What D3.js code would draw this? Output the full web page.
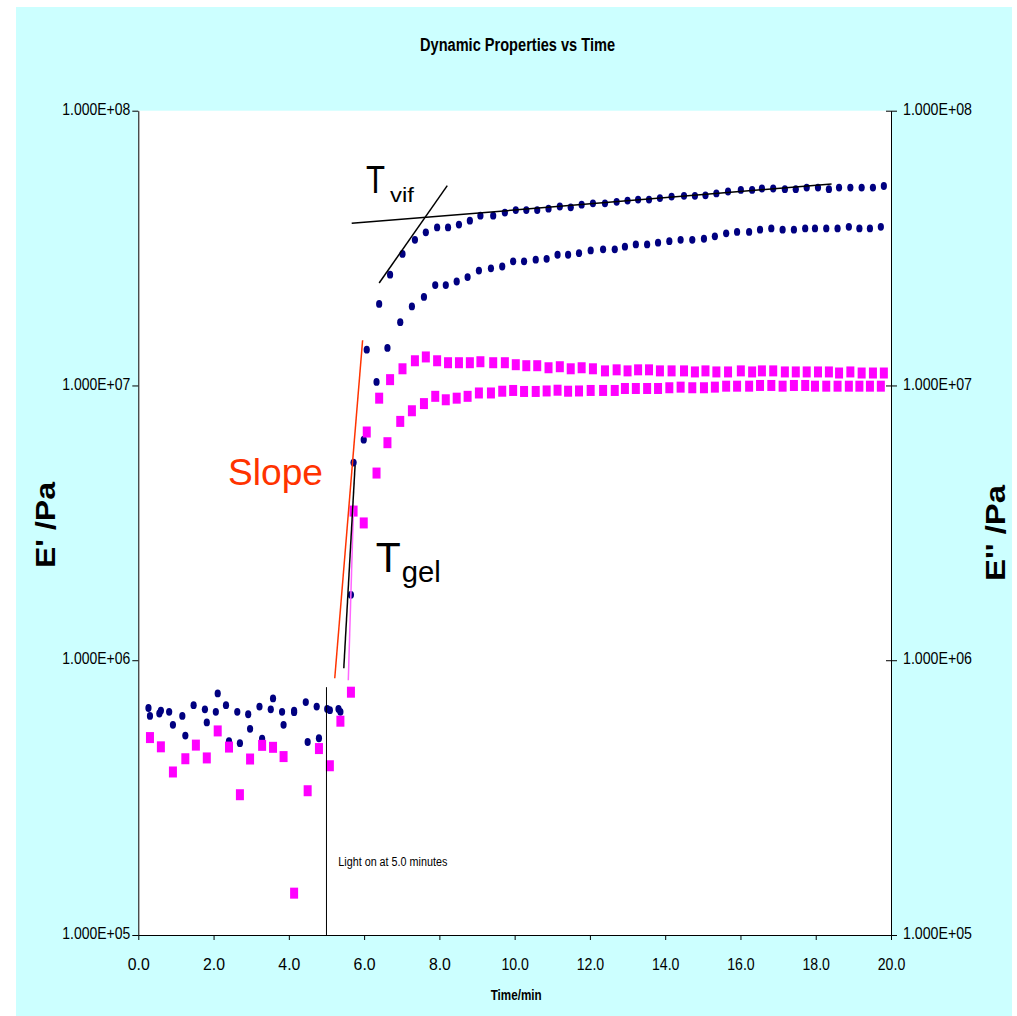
<!DOCTYPE html>
<html>
<head>
<meta charset="utf-8">
<script src="https://cdn.jsdelivr.net/npm/d3@7"></script>
<style>
  body { margin: 0; background: #fff; }
  svg { display: block; font-family: "Liberation Sans", Arial, sans-serif; }
</style>
</head>
<body>
<div id="chart"></div>
<script>
const width = 1017;
const height = 1016;

// time stamps (min) of the two samples
const tUpper = [0.31, 0.60, 0.92, 1.25, 1.53, 1.82, 2.11, 2.41, 2.70, 2.97,
  3.29, 3.58, 3.86, 4.14, 4.50, 4.80, 5.09, 5.37, 5.72, 6.07,
  6.40, 6.69, 7.02, 7.35, 7.64, 7.94, 8.23, 8.52, 8.81, 9.09,
  9.43, 9.74, 10.03, 10.31, 10.60, 10.90, 11.20, 11.49, 11.78, 12.08,
  12.40, 12.71, 13.00, 13.28, 13.57, 13.86, 14.17, 14.50, 14.79, 15.07,
  15.36, 15.67, 16.01, 16.31, 16.57, 16.87, 17.18, 17.47, 17.76, 18.06,
  18.35, 18.62, 18.92, 19.22, 19.52, 19.81];
const tLower = [0.27, 0.56, 0.82, 1.17, 1.47, 1.77, 2.06, 2.33, 2.63, 2.92,
  3.22, 3.52, 3.82, 4.14, 4.45, 4.74, 5.02, 5.32, 5.65, 5.99,
  6.33, 6.62, 6.96, 7.27, 7.59, 7.89, 8.17, 8.46, 8.75, 9.05,
  9.37, 9.67, 9.96, 10.25, 10.56, 10.85, 11.14, 11.42, 11.71, 12.02,
  12.35, 12.66, 12.93, 13.22, 13.52, 13.81, 14.11, 14.41, 14.72, 15.03,
  15.32, 15.62, 15.91, 16.23, 16.52, 16.82, 17.12, 17.42, 17.72, 17.98,
  18.28, 18.58, 18.88, 19.16, 19.44, 19.73];

// E' (navy) and E'' (magenta), Pa
const storageA = [6.27e5, 6.56e5, 5.82e5, 5.32e5, 4.91e5, 5.94e5, 7.57e5, 5.08e5, 4.99e5, 5.63e5,
  5.18e5, 7.26e5, 5.82e5, 6.47e5, 5.04e5, 5.20e5, 6.58e5, 6.49e5, 5.24e6, 1.35e7,
  1.98e7, 2.53e7, 3.01e7, 3.39e7, 3.61e7, 3.76e7, 3.76e7, 3.85e7, 3.98e7, 4.15e7,
  4.15e7, 4.26e7, 4.35e7, 4.35e7, 4.35e7, 4.40e7, 4.48e7, 4.45e7, 4.55e7, 4.60e7,
  4.60e7, 4.66e7, 4.71e7, 4.75e7, 4.75e7, 4.81e7, 4.87e7, 4.90e7, 4.90e7, 4.92e7,
  5.00e7, 5.08e7, 5.15e7, 5.15e7, 5.21e7, 5.21e7, 5.18e7, 5.18e7, 5.25e7, 5.25e7,
  5.18e7, 5.25e7, 5.25e7, 5.25e7, 5.25e7, 5.32e7];
const storageB = [6.70e5, 6.40e5, 6.49e5, 6.27e5, 6.86e5, 6.63e5, 6.49e5, 6.86e5, 6.49e5, 6.36e5,
  6.78e5, 6.63e5, 6.49e5, 6.56e5, 7.04e5, 6.78e5, 6.65e5, 6.65e5, 1.73e6, 6.35e6,
  1.03e7, 1.37e7, 1.70e7, 1.94e7, 2.10e7, 2.32e7, 2.32e7, 2.39e7, 2.48e7, 2.62e7,
  2.67e7, 2.71e7, 2.83e7, 2.83e7, 2.87e7, 2.89e7, 2.99e7, 2.99e7, 3.03e7, 3.10e7,
  3.13e7, 3.13e7, 3.20e7, 3.26e7, 3.26e7, 3.31e7, 3.35e7, 3.39e7, 3.39e7, 3.42e7,
  3.49e7, 3.58e7, 3.62e7, 3.62e7, 3.69e7, 3.73e7, 3.69e7, 3.69e7, 3.73e7, 3.73e7,
  3.73e7, 3.73e7, 3.78e7, 3.73e7, 3.73e7, 3.78e7];
const lossA = [5.23e5, 4.84e5, 3.92e5, 4.38e5, 4.91e5, 4.41e5, 5.53e5, 4.83e5, 3.24e5, 4.37e5,
  4.90e5, 4.82e5, 4.46e5, 1.42e5, 3.35e5, 4.77e5, 4.13e5, 6.00e5, 3.49e6, 6.77e6,
  8.99e6, 1.05e7, 1.15e7, 1.23e7, 1.27e7, 1.23e7, 1.21e7, 1.21e7, 1.21e7, 1.22e7,
  1.21e7, 1.21e7, 1.19e7, 1.18e7, 1.18e7, 1.16e7, 1.17e7, 1.15e7, 1.16e7, 1.15e7,
  1.13e7, 1.14e7, 1.13e7, 1.14e7, 1.14e7, 1.13e7, 1.13e7, 1.13e7, 1.12e7, 1.13e7,
  1.12e7, 1.12e7, 1.13e7, 1.12e7, 1.13e7, 1.13e7, 1.12e7, 1.12e7, 1.12e7, 1.12e7,
  1.12e7, 1.11e7, 1.12e7, 1.11e7, 1.11e7, 1.11e7];
const lossB = [null, null, null, null, null, null, null, null, null, null,
  null, null, null, null, null, null, null, null, 7.65e5, 3.16e6,
  4.80e6, 6.19e6, 7.40e6, 8.09e6, 8.59e6, 9.13e6, 8.87e6, 8.99e6, 9.13e6, 9.39e6,
  9.39e6, 9.53e6, 9.59e6, 9.51e6, 9.51e6, 9.55e6, 9.61e6, 9.53e6, 9.55e6, 9.59e6,
  9.59e6, 9.59e6, 9.75e6, 9.75e6, 9.75e6, 9.75e6, 9.81e6, 9.86e6, 9.81e6, 9.81e6,
  9.86e6, 9.94e6, 9.94e6, 9.94e6, 1.00e7, 1.00e7, 9.94e6, 1.00e7, 1.00e7, 9.94e6,
  9.94e6, 9.94e6, 9.94e6, 9.94e6, 9.94e6, 9.94e6];

const xTicks = [0, 2, 4, 6, 8, 10, 12, 14, 16, 18, 20];
const yTicks = [1e5, 1e6, 1e7, 1e8];

// hand drawn construction lines, [time, modulus]
const vifFlat = [[5.67, 3.89e7], [18.42, 5.41e7]];
const vifSteep = [[6.40, 2.36e7], [8.21, 5.34e7]];
const slopeLine = [[5.22, 8.6e5], [5.96, 1.46e7]];
const gelLine = [[5.46, 9.35e5], [5.76, 5.12e6]];
const pinkLine = [[5.58, 8.46e5], [5.72, 3.66e6]];
const lightOn = [[5.0, 7.98e5], [5.0, 1e5]];

const x = d3.scaleLinear().domain([0, 20]).range([138.3, 891]);
const y = d3.scaleLog().domain([1e5, 1e8]).range([935, 110.7]);

const svg = d3.select("#chart").append("svg")
  .attr("width", width)
  .attr("height", height);

svg.append("rect").attr("width", width).attr("height", height).attr("fill", "#fff");
svg.append("rect").attr("x", 16).attr("y", 7).attr("width", 996).attr("height", 1009).attr("fill", "#ccffff");
svg.append("rect")
  .attr("x", x(0)).attr("y", y(1e8))
  .attr("width", x(20) - x(0)).attr("height", y(1e5) - y(1e8))
  .attr("fill", "#fff");

const fmtE = v => "1.000E+" + String(Math.round(Math.log10(v))).padStart(2, "0");

function cleanAxis(g) {
  g.attr("font-size", null).attr("font-family", null);
  g.select(".domain").attr("stroke", "#000");
  g.selectAll(".tick line").attr("stroke", "#000");
  g.selectAll(".tick text").attr("fill", "#000");
}

svg.append("g")
  .attr("transform", `translate(0,${y(1e5)})`)
  .call(d3.axisBottom(x).tickValues(xTicks).tickFormat(d3.format(".1f")).tickSize(5).tickSizeOuter(0))
  .call(cleanAxis)
  .call(g => g.selectAll(".tick text")
    .attr("y", 35).attr("dy", 0)
    .attr("font-size", 17)
    .attr("textLength", d => d >= 10 ? 27.5 : 22)
    .attr("lengthAdjust", "spacingAndGlyphs"));

svg.append("g")
  .attr("transform", `translate(${x(0)},0)`)
  .call(d3.axisLeft(y).tickValues(yTicks).tickFormat(fmtE).tickSize(6).tickSizeOuter(0))
  .call(cleanAxis)
  .call(g => g.selectAll(".tick text")
    .attr("x", -8).attr("dy", "0.22em")
    .attr("font-size", 16.5)
    .attr("textLength", 68)
    .attr("lengthAdjust", "spacingAndGlyphs"));

svg.append("g")
  .attr("transform", `translate(${x(20)},0)`)
  .call(d3.axisRight(y).tickValues(yTicks).tickFormat(fmtE).tickSize(6).tickSizeOuter(0))
  .call(cleanAxis)
  .call(g => g.selectAll(".tick line").attr("x1", -5))
  .call(g => g.selectAll(".tick text")
    .attr("x", 12).attr("dy", "0.22em")
    .attr("font-size", 16.5)
    .attr("textLength", 69)
    .attr("lengthAdjust", "spacingAndGlyphs"));

// markers
const pts = (ts, vs) => d3.zip(ts, vs).filter(d => d[1] != null);

svg.append("g").selectAll("ellipse")
  .data(pts(tUpper, storageA).concat(pts(tLower, storageB)))
  .join("ellipse")
  .attr("cx", d => x(d[0]))
  .attr("cy", d => y(d[1]))
  .attr("rx", 3.1)
  .attr("ry", 3.9)
  .attr("fill", "#000080");

svg.append("g").selectAll("rect")
  .data(pts(tUpper, lossA).concat(pts(tLower, lossB)))
  .join("rect")
  .attr("x", d => x(d[0]) - 4)
  .attr("y", d => y(d[1]) - 5.5)
  .attr("width", 8)
  .attr("height", 11)
  .attr("fill", "#ff00ff");

const line = d3.line().x(d => x(d[0])).y(d => y(d[1]));
const drawLine = (data, color, w) => svg.append("path")
  .attr("d", line(data)).attr("fill", "none").attr("stroke", color).attr("stroke-width", w);

drawLine(lightOn, "#000", 1);
drawLine(vifFlat, "#000", 1.5);
drawLine(vifSteep, "#000", 1.5);
drawLine(slopeLine, "#ff3300", 1.5);
drawLine(pinkLine, "#ff66ff", 1.5);
drawLine(gelLine, "#000", 1.5);

function label(txt, px, py, size, len, opts = {}) {
  const t = svg.append("text")
    .attr("x", px).attr("y", py)
    .attr("font-size", size)
    .attr("font-weight", opts.bold ? "bold" : null)
    .attr("fill", opts.color || "#000")
    .text(txt);
  if (len) t.attr("textLength", len).attr("lengthAdjust", "spacingAndGlyphs");
  return t;
}

label("Dynamic Properties vs Time", 420, 51, 18, 195, { bold: true });
label("Time/min", 490.7, 1000, 15, 51, { bold: true });
label("Light on at 5.0 minutes", 338.3, 866, 12, 109);
label("Slope", 228, 485, 36, 95, { color: "#ff3300" });
label("T", 366, 192.7, 38, 19);
label("vif", 390, 201.7, 21, 24);
label("T", 375.7, 571.7, 43, 25);
label("gel", 401.7, 581.7, 30, 39);

svg.append("text")
  .attr("transform", "translate(55,525) rotate(-90)")
  .attr("text-anchor", "middle")
  .attr("font-size", 27)
  .attr("font-weight", "bold")
  .attr("textLength", 86)
  .attr("lengthAdjust", "spacingAndGlyphs")
  .text("E' /Pa");

svg.append("text")
  .attr("transform", "translate(1005,533) rotate(-90)")
  .attr("text-anchor", "middle")
  .attr("font-size", 27)
  .attr("font-weight", "bold")
  .attr("textLength", 96)
  .attr("lengthAdjust", "spacingAndGlyphs")
  .text("E'' /Pa");
</script>
</body>
</html>
